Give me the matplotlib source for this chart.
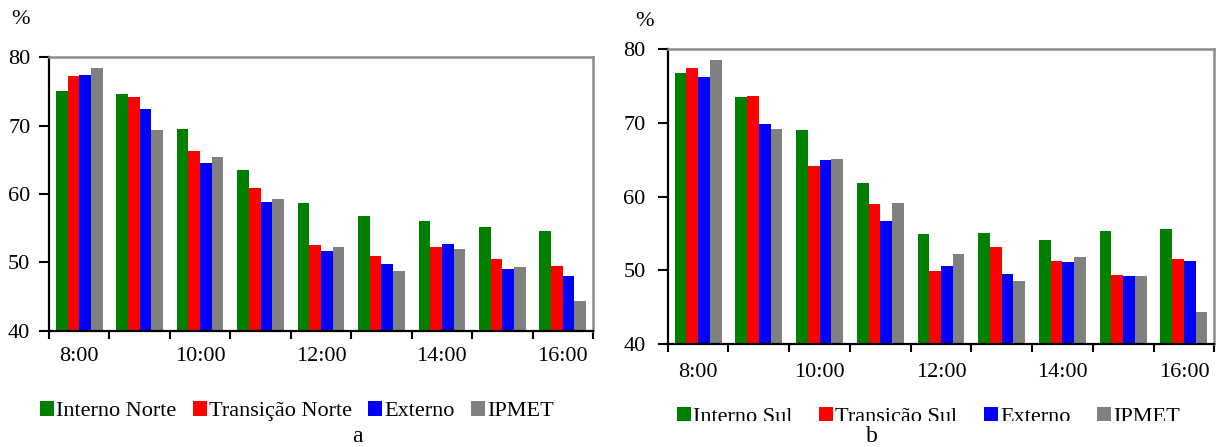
import matplotlib
matplotlib.use("Agg")
import matplotlib.pyplot as plt
from matplotlib.patches import Rectangle
import numpy as np

# Hourly relative humidity (%) by measurement site
hours = ["8:00", "9:00", "10:00", "11:00", "12:00", "13:00", "14:00", "15:00", "16:00"]

# Panel a - north transect
interno_norte = [75.1, 74.6, 69.5, 63.5, 58.7, 56.8, 56.1, 55.1, 54.6]
transicao_norte = [77.2, 74.2, 66.3, 60.9, 52.6, 51.0, 52.2, 50.5, 49.5]
externo_a = [77.4, 72.4, 64.5, 58.9, 51.6, 49.7, 52.7, 49.1, 48.0]
ipmet_a = [78.5, 69.3, 65.4, 59.2, 52.3, 48.7, 52.0, 49.3, 44.4]

# Panel b - south transect
interno_sul = [76.8, 73.5, 69.0, 61.9, 54.9, 55.1, 54.1, 55.3, 55.6]
transicao_sul = [77.5, 73.6, 64.2, 59.0, 49.9, 53.2, 51.3, 49.4, 51.5]
externo_b = [76.3, 69.9, 65.0, 56.7, 50.6, 49.5, 51.1, 49.2, 51.3]
ipmet_b = [78.5, 69.2, 65.1, 59.1, 52.2, 48.5, 51.8, 49.2, 44.4]

labels_a = ["Interno Norte", "Transição Norte", "Externo", "IPMET"]
labels_b = ["Interno Sul", "Transição Sul", "Externo", "IPMET"]
colors = ["#008000", "#FF0000", "#0000FF", "#808080"]

plt.rcParams["font.family"] = ["Liberation Serif", "DejaVu Serif"]
FS = 16

W, H = 1216, 447
fig = plt.figure(figsize=(W / 100, H / 100), dpi=100)
ax_a = fig.add_axes([49 / W, 1 - 330.7 / H, (593 - 49) / W, (330.7 - 57.3) / H])
ax_b = fig.add_axes([667.7 / W, 1 - 344 / H, (1214.3 - 667.7) / W, (344 - 49.3) / H])

bar_w = 0.193
offsets = np.array([-1.5, -0.5, 0.5, 1.5]) * bar_w
x = np.arange(len(hours))


def draw_panel(ax, series, names, ypad, xpad):
    handles = []
    for s, off, c, n in zip(series, offsets, colors, names):
        h = ax.bar(x + off, s, width=bar_w, color=c, label=n, linewidth=0)
        handles.append(h)
    ax.set_ylim(40, 80)
    ax.set_yticks([40, 50, 60, 70, 80])
    ax.set_xlim(-0.5, len(hours) - 0.5)
    # tick marks between hour groups, labels on every second hour
    ax.set_xticks(np.arange(len(hours) + 1) - 0.5)
    ax.set_xticklabels([])
    ax.set_xticks(x[::2], minor=True)
    ax.set_xticklabels(hours[::2], minor=True, fontsize=FS)
    ax.tick_params(axis="x", which="major", direction="out", length=6, width=1.5, color="black")
    ax.tick_params(axis="x", which="minor", length=0, pad=xpad)
    ax.tick_params(axis="y", direction="out", length=7, width=1.5, labelsize=FS, pad=ypad)
    for side in ("left", "bottom"):
        ax.spines[side].set_color("black")
        ax.spines[side].set_linewidth(1.6)
    for side in ("top", "right"):
        ax.spines[side].set_color("#8c8c8c")
        ax.spines[side].set_linewidth(1.8)
    return handles


h_a = draw_panel(ax_a, [interno_norte, transicao_norte, externo_a, ipmet_a], labels_a, 6.5, 12)
h_b = draw_panel(ax_b, [interno_sul, transicao_sul, externo_b, ipmet_b], labels_b, 9, 13.5)

fig.text(20 / W, 1 - 20 / H, "%", fontsize=FS, ha="center", va="center")
fig.text(644 / W, 1 - 21 / H, "%", fontsize=FS, ha="center", va="center")

leg_kw = dict(ncol=4, frameon=False, fontsize=FS, handlelength=0.64, handleheight=0.64,
              handletextpad=0.1, borderaxespad=0, borderpad=0)
fig.legend(h_a, labels_a, loc="center left", bbox_to_anchor=(40 / W, 1 - 411 / H),
           columnspacing=0.72, **leg_kw)
fig.legend(h_b, labels_b, loc="center left", bbox_to_anchor=(677 / W, 1 - 417 / H),
           columnspacing=1.18, **leg_kw)

# the lower legend row is cut off along its bottom edge
fig.add_artist(Rectangle((670 / W, 1 - 429 / H), 520 / W, 8 / H, transform=fig.transFigure,
                         facecolor="white", edgecolor="none", zorder=10))

fig.text(357 / W, 1 - 437 / H, "a", fontsize=FS + 1, ha="center", va="center")
fig.text(872 / W, 1 - 437 / H, "b", fontsize=FS + 1, ha="center", va="center", zorder=11)

fig.savefig("out.png", dpi=100)
